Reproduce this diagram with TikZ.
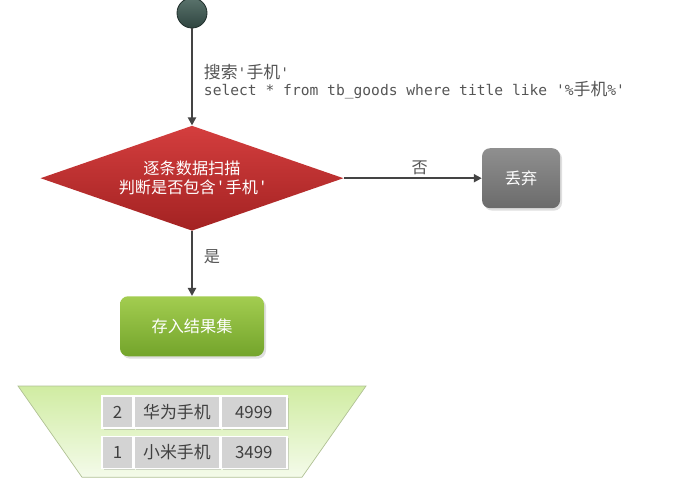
\documentclass[tikz,border=0pt]{standalone}
\usepackage{fontspec}
\setmainfont{Noto Sans CJK SC}
\newfontfamily\cjk{Noto Sans CJK SC}
\newfontfamily\codefont{DejaVu Sans Mono}
\usepackage{tikz}
\usetikzlibrary{arrows.meta,positioning,shapes.geometric,shadows,backgrounds}
\definecolor{cStartT}{HTML}{5A736C}
\definecolor{cStartB}{HTML}{2F4540}
\definecolor{cEdge}{HTML}{444444}
\definecolor{cRedT}{HTML}{D43E3E}
\definecolor{cRedB}{HTML}{A32222}
\definecolor{cGreyT}{HTML}{8F8F8F}
\definecolor{cGreyB}{HTML}{6B6B6B}
\definecolor{cGreenT}{HTML}{A3CD50}
\definecolor{cGreenB}{HTML}{73A42B}
\definecolor{cBucketT}{HTML}{D0ECA2}
\definecolor{cBucketB}{HTML}{F4FBEA}
\definecolor{cCell}{HTML}{D3D3D3}
\definecolor{cText}{HTML}{555555}
\newcommand{\sq}{\textquotesingle}
\tikzset{
  startdot/.style={circle, minimum size=7.5mm, inner sep=0pt, top color=cStartT,
                   bottom color=cStartB, draw=cStartB!70!black, line width=0.6pt},
  test/.style={diamond, aspect=2.886, minimum width=75.75mm, minimum height=26.25mm, inner sep=0pt,
               top color=cRedT, bottom color=cRedB, text=white, align=center,
               font=\fontsize{11.5}{13.5}\selectfont},
  box/.style 2 args={rounded corners=2mm, top color=#1, bottom color=#2, text=white,
                     align=center, font=\fontsize{11.5}{13}\selectfont, minimum height=15mm,
                     drop shadow={opacity=0.25, shadow xshift=0.5mm, shadow yshift=-0.6mm}},
  cell/.style={draw=white, line width=1pt, fill=cCell, minimum height=8mm, inner sep=0pt,
               text=black!75, font=\fontsize{12}{13}\selectfont,
               drop shadow={opacity=0.3, shadow xshift=0.5mm, shadow yshift=-0.5mm}},
  flow/.style={-{Triangle[length=2mm, width=2mm]}, line width=1.4pt, draw=cEdge},
  lbl/.style={text=cText, inner sep=0pt, font=\fontsize{11.5}{13}\selectfont},
  code/.style={text=cText, inner sep=0pt, align=left, font=\fontsize{10.4}{12}\codefont},
  bucket/.style={top color=cBucketT, bottom color=cBucketB, draw=cBucketT!60!gray, line width=0.5pt},
}

\begin{document}
\begin{tikzpicture}[x=1mm, y=1mm]
  \useasboundingbox (0,0) rectangle (173,-120);
  % start, then the row-by-row test
  \node[startdot] (start) at (48,-3.25) {};
  \node[test, below=24.25mm of start] (scan) {逐条数据扫描\\判断是否包含\,\sq\,手机\,\sq};
  \node[box={cGreyT}{cGreyB}, right=34.5mm of scan, minimum width=19.5mm] (drop) {丢弃};
  \node[box={cGreenT}{cGreenB}, below=16.25mm of scan, minimum width=36mm] (keep) {存入结果集};
  \draw[flow] (start) -- node[code, pos=0.55, right=2.75mm]
    {{\fontsize{12}{12}\cjk 搜索}\sq{\fontsize{12}{12}\cjk 手机}\sq\\
     select * from tb\_goods where title like \sq\%{\fontsize{12}{12}\cjk 手机}\%\sq} (scan);
  \draw[flow] (scan) -- node[lbl, pos=0.55, above=0.6mm] {否} (drop);
  \draw[flow] (scan) -- node[lbl, pos=0.4, right=2.75mm] {是} (keep);
  % result set --- two rows in the bucket
  \node[cell, minimum width=7.75mm] (r2id) at (29.375,-103) {2};
  \node[cell, minimum width=21.25mm, right=0pt of r2id] (r2name) {华为手机};
  \node[cell, minimum width=16.5mm, right=0pt of r2name] (r2price) {4999};
  \node[cell, minimum width=7.75mm, below=1.75mm of r2id] (r1id) {1};
  \node[cell, minimum width=21.25mm, right=0pt of r1id] (r1name) {小米手机};
  \node[cell, minimum width=16.5mm, right=0pt of r1name] (r1price) {3499};
  \begin{scope}[on background layer]
    \shade[bucket] (4.5,-96.5) -- (91.5,-96.5) -- (75.5,-119.3) -- (20.5,-119.3) -- cycle;
  \end{scope}
\end{tikzpicture}
\end{document}
